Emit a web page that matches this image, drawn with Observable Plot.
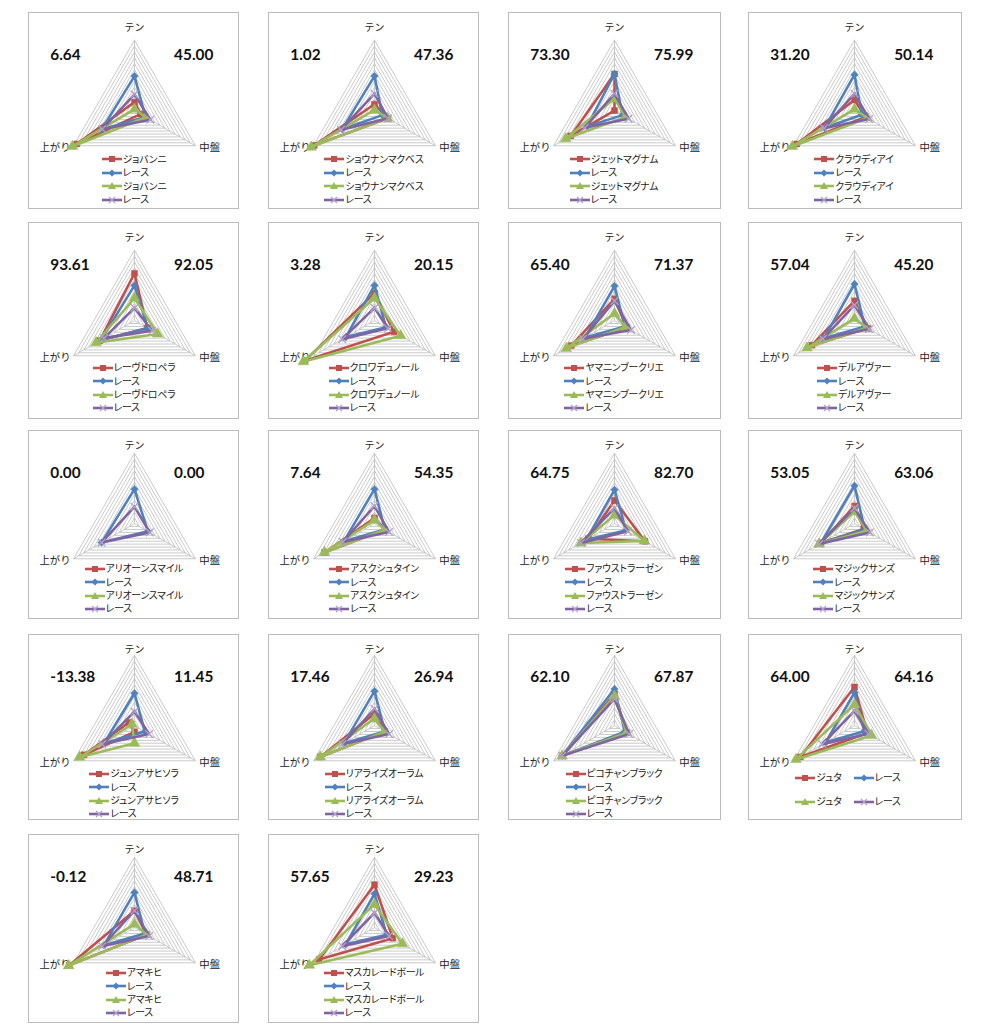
<!DOCTYPE html>
<html><head><meta charset="utf-8">
<script src="https://cdn.jsdelivr.net/npm/d3@7"></script>
<script src="https://cdn.jsdelivr.net/npm/@observablehq/plot@0.6"></script>
<style>
body{margin:0;background:#fff;width:988px;height:1024px;position:relative;overflow:hidden;font-family:"Noto Sans CJK JP",sans-serif;}
.panel{position:absolute;border:1px solid #bcbcbc;box-sizing:border-box;background:#fff;}
.panel svg.plot{position:absolute;left:0;top:0;overflow:visible;}
.leg{position:absolute;left:0;width:210px;text-align:center;font-size:9.8px;letter-spacing:-0.15px;font-feature-settings:"palt";color:#1a1a1a;}
.leg .in{display:inline-block;text-align:left;}
.leg .row{height:13.4px;line-height:13.4px;white-space:nowrap;display:flex;align-items:center;}
.leg svg{display:block;flex:none;}
.leg .item{display:flex;align-items:center;margin-right:12px;}
</style></head><body>
<script>
// ---- data ----
const axisNames = ["テン", "中盤", "上がり"];
const raceLabel = "レース";
const horseNames = ["ジョバンニ","ショウナンマクベス","ジェットマグナム","クラウディアイ","レーヴドロペラ","クロワデュノール","ヤマニンブークリエ","デルアヴァー","アリオーンスマイル","アスクシュタイン","ファウストラーゼン","マジックサンズ","ジュンアサヒソラ","リアライズオーラム","ピコチャンブラック","ジュタ","アマキヒ","マスカレードボール"];
const leftScores  = [6.64, 1.02, 73.30, 31.20, 93.61, 3.28, 65.40, 57.04, 0.00, 7.64, 64.75, 53.05, -13.38, 17.46, 62.10, 64.00, -0.12, 57.65];
const rightScores = [45.00, 47.36, 75.99, 50.14, 92.05, 20.15, 71.37, 45.20, 0.00, 54.35, 82.70, 63.06, 11.45, 26.94, 67.87, 64.16, 48.71, 29.23];
// values per axis [テン, 中盤, 上がり], in % of outer ring (negative = beyond the centre)
const horseA = [ // red squares
  [12,10,95],[9,22,99],[52,0,72],[15,18,95],[67,21,57],[39,32,114],[31,20,71],[28,22,70],
  null,[8,17,82],[33,50,43],[25,15,55],[-9,-9,83],[17,17,89],[45,20,86],[55,21,89],[24,20,107],[61,30,91]];
const raceA = [ // blue diamonds
  [49,18,54],[49,13,53],[52,13,45],[51,12,49],[50,22,55],[50,19,47],[49,17,48],[52,17,50],
  [49,22,54],[49,17,50],[48,19,46],[54,17,55],[46,17,50],[49,17,50],[52,17,86],[47,16,47],[50,17,50],[48,20,47]];
const horseB = [ // green triangles
  [2,19,102],[1,21,104],[17,18,80],[2,21,102],[32,38,63],[32,43,117],[10,18,79],[3,20,78],
  null,[5,17,82],[12,49,55],[17,20,58],[-25,-4,90],[10,17,89],[42,20,86],[30,28,96],[5,20,108],[33,46,107]];
const raceB = [ // purple crosses
  [23,26,53],[24,22,55],[24,23,49],[24,24,50],[18,29,50],[18,22,53],[28,27,52],[22,24,52],
  [24,25,54],[25,24,52],[22,22,55],[22,25,58],[20,24,53],[24,24,53],[38,24,86],[21,23,53],[24,24,53],[21,24,53]];

// ---- style / layout ----
const colors = ["#C0504D", "#4F81BD", "#9BBB59", "#8064A2"];
const symbols = ["square", "diamond2", "triangle", "times"];
const levels = 12;
const colX = [28, 268, 508, 748], colW = [211, 211, 213, 214];
const rowY = [12, 222, 430, 634, 834], rowH = [197, 197, 189, 186, 189];
const rowCY = [110, 320, 523, 725, 927], rowLeg = [158.5, 367, 568, 773, 972];
const RPX = 71;

function legendMarker(s) {
  const c = colors[s];
  let m = "";
  if (s === 0) m = `<rect x="7" y="2" width="6" height="6" fill="${c}"/>`;
  if (s === 1) m = `<polygon points="10,1.5 13.5,5 10,8.5 6.5,5" fill="${c}"/>`;
  if (s === 2) m = `<polygon points="10,1 14,8 6,8" fill="${c}"/>`;
  if (s === 3) m = `<path d="M7,2L13,8M13,2L7,8" stroke="#b3a2c7" stroke-width="1.3"/>`;
  return `<svg width="21" height="10"><line x1="0" y1="5" x2="20" y2="5" stroke="${c}" stroke-width="2.6"/>${m}</svg>`;
}

function panel(i) {
  const col = i % 4, row = Math.floor(i / 4);
  const bx = colX[col], by = rowY[row], bw = colW[col], bh = rowH[row];
  const cx = 106, cy = rowCY[row] - by;
  const W = bw, H = bh;
  const div = document.createElement("div");
  div.className = "panel";
  Object.assign(div.style, {left: bx + "px", top: by + "px", width: bw + "px", height: bh + "px"});
  const ang = [90, -30, 210].map(d => d * Math.PI / 180);
  const grid = [];
  for (let L = 1; L <= levels; L++)
    for (let k = 0; k <= 3; k++) grid.push({L, x: L / levels * Math.cos(ang[k % 3]), y: L / levels * Math.sin(ang[k % 3])});
  const spokes = ang.map(a => ({x: Math.cos(a), y: Math.sin(a)}));
  const u = px => px / RPX;
  const marks = [
    Plot.line(grid, {x: "x", y: "y", z: "L", stroke: "#c3c3c3", strokeWidth: 0.9}),
    Plot.link(spokes, {x1: 0, y1: 0, x2: "x", y2: "y", stroke: "#c3c3c3", strokeWidth: 0.9}),
    Plot.text([axisNames[0]], {x: 0, y: u(cy - 14), text: d => d, fontSize: 10, fill: "#222", textAnchor: "middle"}),
    Plot.text([axisNames[1]], {x: Math.cos(ang[1]), y: Math.sin(ang[1]), text: d => d, dx: 4, dy: 1.5, fontSize: 10.5, fill: "#222", textAnchor: "start"}),
    Plot.text([axisNames[2]], {x: Math.cos(ang[2]), y: Math.sin(ang[2]), text: d => d, dx: -3, dy: 1.5, fontSize: 10.5, fill: "#222", textAnchor: "end"}),
    Plot.text([leftScores[i]], {x: u(21 - cx), y: u(cy - 41.5), text: d => d.toFixed(2), fontSize: 15.5, fontWeight: "bold", fontFamily: "Lato", fill: "#111", textAnchor: "start"}),
    Plot.text([rightScores[i]], {x: u(146 - cx), y: u(cy - 41.5), text: d => d.toFixed(2), fontSize: 15.5, fontWeight: "bold", fontFamily: "Lato", fill: "#111", textAnchor: "start"})
  ];
  const sets = [horseA[i], raceA[i], horseB[i], raceB[i]];
  sets.forEach((vals, s) => {
    if (!vals) return;
    const pts = vals.map((v, k) => ({x: v / 100 * Math.cos(ang[k]), y: v / 100 * Math.sin(ang[k])}));
    marks.push(Plot.line([...pts, pts[0]], {x: "x", y: "y", stroke: colors[s], strokeWidth: 2.6, strokeLinejoin: "round"}));
    if (s === 3) marks.push(Plot.dot(pts, {x: "x", y: "y", symbol: "times", r: 3.6, stroke: "#b3a2c7", strokeWidth: 1.3, fill: "none"}));
    else marks.push(Plot.dot(pts, {x: "x", y: "y", symbol: symbols[s], r: s === 2 ? 4 : 3.4, fill: colors[s], stroke: colors[s], strokeWidth: 0.5}));
  });
  const svg = Plot.plot({
    width: W, height: H, margin: 0,
    x: {axis: null, domain: [u(-cx), u(W - cx)], range: [0, W]},
    y: {axis: null, domain: [u(cy), u(cy - H)], range: [0, H]},
    style: {fontFamily: "'Noto Sans CJK JP', sans-serif", background: "transparent", overflow: "visible"},
    marks
  });
  svg.classList.add("plot");
  div.appendChild(svg);
  // legend
  const leg = document.createElement("div");
  leg.className = "leg";
  const labels = [horseNames[i], raceLabel, horseNames[i], raceLabel];
  const top = rowLeg[row] - by - 6.7 + (i === 15 ? 4 : 0);
  leg.style.top = top + "px";
  let html = '<div class="in">';
  if (i === 15) {
    html += `<div class="row"><span class="item">${legendMarker(0)}<span>${labels[0]}</span></span><span class="item">${legendMarker(1)}<span>${labels[1]}</span></span></div>`;
    html += `<div class="row" style="margin-top:10.5px"><span class="item">${legendMarker(2)}<span>${labels[2]}</span></span><span class="item">${legendMarker(3)}<span>${labels[3]}</span></span></div>`;
  } else {
    for (let s = 0; s < 4; s++) html += `<div class="row">${legendMarker(s)}<span>${labels[s]}</span></div>`;
  }
  html += "</div>";
  leg.innerHTML = html;
  div.appendChild(leg);
  document.body.appendChild(div);
}
for (let i = 0; i < horseNames.length; i++) panel(i);
</script>
</body></html>
